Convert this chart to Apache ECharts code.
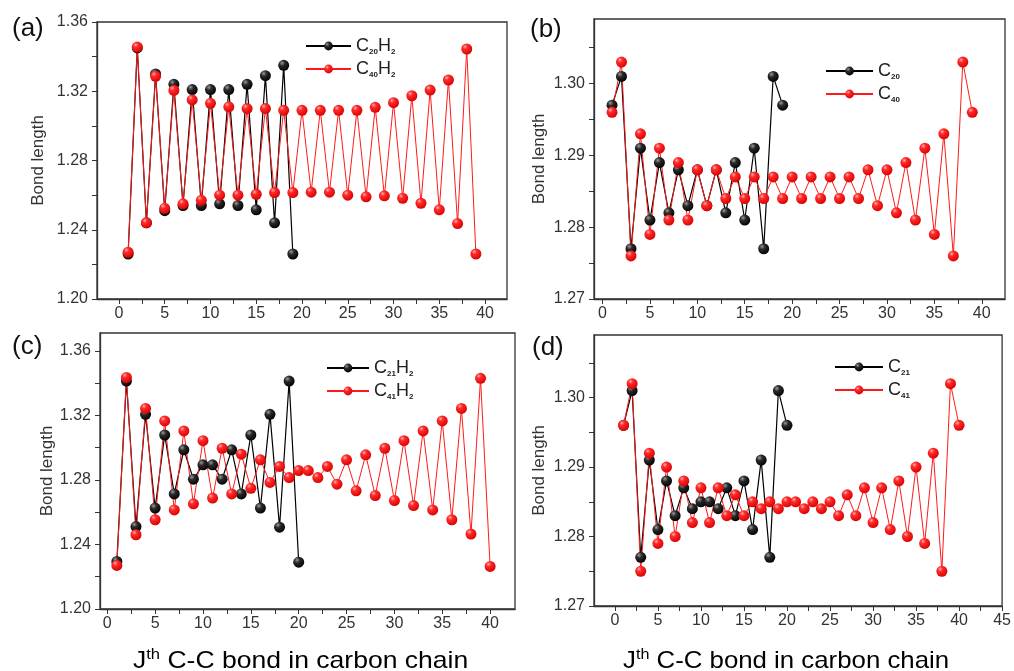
<!DOCTYPE html>
<html>
<head>
<meta charset="utf-8">
<style>
html,body{margin:0;padding:0;background:#fff;}
#chart{width:1014px;height:671px;}
</style>
<script src="https://cdn.jsdelivr.net/npm/echarts@6/dist/echarts.min.js"></script>
</head>
<body>
<div id="chart"></div>
<script>
// (a) C20H2 / C40H2
var aC20H2 = [1.226, 1.345, 1.244, 1.330, 1.251, 1.324, 1.254, 1.321, 1.254, 1.321, 1.255, 1.321, 1.254, 1.324, 1.2515, 1.329, 1.244, 1.335, 1.226];
var aC40H2 = [1.227, 1.3455, 1.244, 1.3286, 1.2524, 1.3205, 1.255, 1.315, 1.257, 1.313, 1.260, 1.311, 1.260, 1.310, 1.2605, 1.310, 1.2615, 1.309, 1.2615, 1.309,
              1.2617, 1.309, 1.2617, 1.309, 1.260, 1.309, 1.259, 1.3107, 1.2596, 1.3134, 1.2582, 1.3174, 1.2553, 1.3207, 1.2515, 1.3265, 1.2436, 1.3444, 1.226];
// (b) C20 / C40
var bC20 = [1.297, 1.301, 1.277, 1.291, 1.281, 1.289, 1.282, 1.288, 1.283, 1.288, 1.283, 1.288, 1.282, 1.289, 1.281, 1.291, 1.277, 1.301, 1.297];
var bC40 = [1.296, 1.303, 1.276, 1.293, 1.279, 1.291, 1.281, 1.289, 1.281, 1.288, 1.283, 1.288, 1.284, 1.287, 1.284, 1.287, 1.284, 1.287, 1.284, 1.287,
            1.284, 1.287, 1.284, 1.287, 1.284, 1.287, 1.284, 1.288, 1.283, 1.288, 1.282, 1.289, 1.281, 1.291, 1.279, 1.293, 1.276, 1.303, 1.296];
// (c) C21H2 / C41H2
var cC21H2 = [1.2295, 1.3412, 1.2511, 1.3206, 1.2625, 1.3078, 1.2713, 1.2986, 1.2804, 1.2893, 1.2893, 1.2804, 1.2986, 1.2713, 1.3078, 1.2625, 1.3206, 1.2507, 1.3412, 1.229];
var cC41H2 = [1.227, 1.3435, 1.246, 1.3243, 1.2553, 1.3165, 1.2614, 1.3103, 1.2652, 1.3043, 1.2687, 1.2996, 1.2713, 1.2959, 1.2748, 1.2924, 1.2784, 1.2883, 1.2814, 1.2858,
              1.2858, 1.2814, 1.2883, 1.2773, 1.2924, 1.2732, 1.2955, 1.2703, 1.2996, 1.2672, 1.3043, 1.2641, 1.3103, 1.2614, 1.3165, 1.2553, 1.3243, 1.2464, 1.3429, 1.2264];
// (d) C21 / C41
var dC21 = [1.296, 1.301, 1.277, 1.291, 1.281, 1.288, 1.283, 1.287, 1.284, 1.285, 1.285, 1.284, 1.287, 1.283, 1.288, 1.281, 1.291, 1.277, 1.301, 1.296];
var dC41 = [1.296, 1.302, 1.275, 1.292, 1.279, 1.290, 1.280, 1.288, 1.282, 1.287, 1.282, 1.287, 1.283, 1.286, 1.283, 1.285, 1.284, 1.285, 1.284, 1.285,
            1.285, 1.284, 1.285, 1.284, 1.285, 1.283, 1.286, 1.283, 1.287, 1.282, 1.287, 1.281, 1.288, 1.280, 1.290, 1.279, 1.292, 1.275, 1.302, 1.296];

var seriesNames = [['C20H2', 'C40H2'], ['C20', 'C40'], ['C21H2', 'C41H2'], ['C21', 'C41']];
var panelLabels = ['(a)', '(b)', '(c)', '(d)'];

// tick labels / tick marks
var xLabels40 = [0, 5, 10, 15, 20, 25, 30, 35, 40];
var xLabels45 = [0, 5, 10, 15, 20, 25, 30, 35, 40, 45];
var xTicks40 = [0, 2.5, 5, 7.5, 10, 12.5, 15, 17.5, 20, 22.5, 25, 27.5, 30, 32.5, 35, 37.5, 40];
var xTicks45 = [0, 2.5, 5, 7.5, 10, 12.5, 15, 17.5, 20, 22.5, 25, 27.5, 30, 32.5, 35, 37.5, 40, 42.5, 45];
var yLabelsAC = [1.20, 1.24, 1.28, 1.32, 1.36];
var yTicksAC = [1.20, 1.22, 1.24, 1.26, 1.28, 1.30, 1.32, 1.34, 1.36];
var yLabelsBD = [1.27, 1.28, 1.29, 1.30];
var yTicksBD = [1.27, 1.275, 1.28, 1.285, 1.29, 1.295, 1.30, 1.305];

var FONT = '"Liberation Sans", Arial, sans-serif';

var blackBall = new echarts.graphic.RadialGradient(0.35, 0.3, 0.75, [
    {offset: 0, color: '#9a9a9a'}, {offset: 0.35, color: '#2a2a2a'}, {offset: 1, color: '#000'}]);
var redBall = new echarts.graphic.RadialGradient(0.35, 0.3, 0.75, [
    {offset: 0, color: '#ffb0b0'}, {offset: 0.3, color: '#ff2a2a'}, {offset: 1, color: '#d80000'}]);

/*网格位置*/
var grids = [
    {left: 97, top: 22, width: 410, height: 277},
    {left: 594, top: 19, width: 411, height: 280},
    {left: 100, top: 333, width: 415, height: 276},
    {left: 594, top: 335, width: 409, height: 271}
];
var xRanges = [[-2.4, 42.4], [-0.9, 42.45], [-0.76, 42.6], [-2.43, 45]];
var yRanges = [[1.20, 1.36], [1.27, 1.309], [1.20, 1.371], [1.27, 1.309]];
var nameGaps = [50, 46, 44, 46];
var legendPos = [
    {left: 305, top: 37, w: 45},
    {left: 825, top: 62, w: 47},
    {left: 326, top: 359, w: 42},
    {left: 834, top: 358, w: 48}
];

function toPairs(arr){
    return arr.map(function(v, i){ return [i + 1, v]; });
}

function chemName(name){
    return name.replace(/([A-Z]+)/g, '{c|$1}').replace(/(\d+)/g, '{s|$1}');
}

var option = {
    animation: false,
    backgroundColor: '#fff',
    grid: [], xAxis: [], yAxis: [], legend: [], series: [], graphic: []
};

var allData = [[aC20H2, aC40H2], [bC20, bC40], [cC21H2, cC41H2], [dC21, dC41]];

for (var i = 0; i < 4; i++) {
    var g = grids[i];
    option.grid.push({
        left: g.left, top: g.top, width: g.width, height: g.height,
        show: true, borderColor: '#333', borderWidth: 1.3, backgroundColor: 'transparent'
    });
    var xl = (i == 3) ? xLabels45 : xLabels40;
    var xt = (i == 3) ? xTicks45 : xTicks40;
    option.xAxis.push({
        type: 'value', gridIndex: i, min: xRanges[i][0], max: xRanges[i][1],
        axisLine: {show: true, onZero: false, lineStyle: {color: '#333', width: 1.3}},
        axisTick: {show: true, length: 5, customValues: xt, lineStyle: {color: '#333'}},
        axisLabel: {customValues: xl, margin: 7, color: '#333', fontSize: 16, fontFamily: FONT},
        splitLine: {show: false}
    });
    var yl = (i % 2 == 0) ? yLabelsAC : yLabelsBD;
    var yt = (i % 2 == 0) ? yTicksAC : yTicksBD;
    option.yAxis.push({
        type: 'value', gridIndex: i, min: yRanges[i][0], max: yRanges[i][1],
        name: 'Bond length', nameLocation: 'middle', nameGap: nameGaps[i],
        nameTextStyle: {fontSize: 17, color: '#333', fontFamily: FONT},
        axisLine: {show: true, onZero: false, lineStyle: {color: '#333', width: 1.3}},
        axisTick: {show: true, length: 5, customValues: yt, lineStyle: {color: '#333'}},
        axisLabel: {customValues: yl, margin: 9, color: '#333', fontSize: 16, fontFamily: FONT,
            formatter: function(v){ return v.toFixed(2); }},
        splitLine: {show: false}
    });
    var lp = legendPos[i];
    option.legend.push({
        orient: 'vertical', left: lp.left, top: lp.top, padding: 0, itemGap: 4,
        itemWidth: lp.w, itemHeight: 11,
        data: seriesNames[i],
        formatter: chemName,
        textStyle: {
            rich: {
                c: {fontSize: 18, color: '#222', fontFamily: FONT, lineHeight: 20},
                s: {fontSize: 8, fontWeight: 'bold', color: '#222', fontFamily: FONT, verticalAlign: 'bottom', lineHeight: 10}
            }
        }
    });
    option.series.push({
        type: 'line', name: seriesNames[i][0], xAxisIndex: i, yAxisIndex: i,
        data: toPairs(allData[i][0]), symbol: 'circle', symbolSize: 11,
        lineStyle: {color: '#000', width: 1.2}, itemStyle: {color: blackBall},
        emphasis: {disabled: true}
    });
    option.series.push({
        type: 'line', name: seriesNames[i][1], xAxisIndex: i, yAxisIndex: i,
        data: toPairs(allData[i][1]), symbol: 'circle', symbolSize: 11,
        lineStyle: {color: '#ff1a1a', width: 1}, itemStyle: {color: redBall},
        emphasis: {disabled: true}
    });
}

/*面板标签*/
var labelPos = [[12, 16], [530, 17], [12, 334], [532, 335]];
for (var k = 0; k < 4; k++) {
    option.graphic.push({
        type: 'text', left: labelPos[k][0], top: labelPos[k][1],
        style: {text: panelLabels[k], font: '26px ' + FONT, fill: '#111'}
    });
}

/*横轴标题*/
var titleRich = {
    j: {fontSize: 24, color: '#111', fontFamily: FONT, lineHeight: 28},
    t: {fontSize: 15, color: '#111', fontFamily: FONT, verticalAlign: 'top', lineHeight: 16}
};
var titlePos = [[133, 647, 1.105], [623, 647, 1.075]];
for (var m = 0; m < 2; m++) {
    option.graphic.push({
        type: 'text', x: titlePos[m][0], y: titlePos[m][1], scaleX: titlePos[m][2],
        style: {text: '{j|J}{t|th}{j| C-C bond in carbon chain}', rich: titleRich, verticalAlign: 'top', align: 'left'}
    });
}

var myChart = echarts.init(document.getElementById('chart'));
myChart.setOption(option);
</script>
</body>
</html>
